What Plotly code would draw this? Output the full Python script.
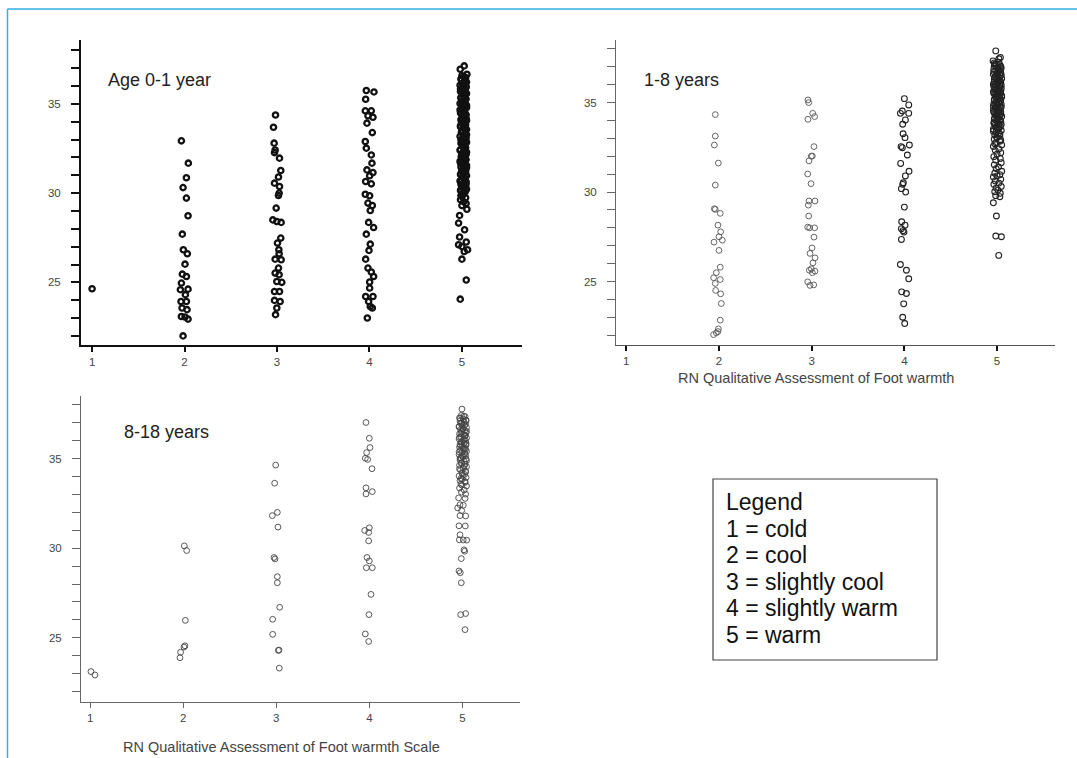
import plotly.graph_objects as go

W, H = 1077, 758

# ---------------- DATA ----------------
categories = [1, 2, 3, 4, 5]
category_labels = ["1", "2", "3", "4", "5"]
y_tick_values = [25, 30, 35]
y_tick_labels = ["25", "30", "35"]

panel_titles = ["Age 0-1 year", "1-8 years", "8-18 years"]
x_title_top = "RN Qualitative Assessment of Foot warmth"
x_title_bottom = "RN Qualitative Assessment of Foot warmth Scale"
legend_lines = ["Legend", "1 = cold", "2 = cool", "3 = slightly cool",
                "4 = slightly warm", "5 = warm"]

# ---- Age 0-1 year ----
age01_c1_x = [1.0]
age01_c1_y = [24.64]
age01_c2_x = [1.966, 2.041, 2.020, 1.984, 2.020, 2.038, 1.976, 1.987, 2.030, 2.005,
              1.976, 2.020, 1.966, 2.038, 1.955, 2.009, 1.962, 2.020, 1.973, 2.027,
              1.966, 2.005, 2.038, 1.984]
age01_c2_y = [32.93, 31.68, 30.86, 30.31, 29.72, 28.73, 27.70, 26.83, 26.60, 26.02,
              25.46, 25.33, 24.96, 24.62, 24.59, 24.31, 23.93, 23.93, 23.56, 23.47,
              23.09, 23.06, 22.94, 22.00]
age01_c3_x = [2.984, 2.962, 2.969, 2.980, 2.973, 3.027, 3.041, 3.016, 2.973, 3.027,
              3.023, 3.016, 2.991, 2.955, 2.998, 3.045, 3.041, 3.005, 3.020, 3.023,
              2.980, 3.045, 3.016, 2.980, 3.023, 2.998, 3.052, 2.973, 3.027, 2.973,
              3.034, 2.998, 2.984]
age01_c3_y = [34.38, 33.69, 32.80, 32.42, 32.27, 31.96, 31.27, 30.90, 30.56, 30.37,
              30.00, 29.87, 29.16, 28.50, 28.41, 28.36, 27.48, 27.20, 26.83, 26.60,
              26.30, 26.27, 25.80, 25.52, 25.43, 25.05, 25.00, 24.49, 24.49, 23.99,
              23.93, 23.56, 23.19]
age01_c4_x = [3.966, 4.049, 3.959, 3.955, 4.020, 3.984, 4.038, 3.973, 4.031, 3.955,
              3.966, 4.020, 4.027, 3.973, 4.038, 4.002, 3.959, 4.020, 3.955, 4.002,
              3.984, 4.031, 4.009, 3.991, 4.045, 3.966, 4.009, 3.995, 3.959, 3.984,
              4.020, 4.045, 4.002, 4.002, 3.959, 4.038, 3.991, 4.009, 4.031, 3.977]
age01_c4_y = [35.75, 35.67, 35.26, 34.61, 34.61, 34.33, 34.25, 33.92, 33.39, 32.89,
              32.52, 32.14, 31.68, 31.30, 31.15, 30.97, 30.65, 30.52, 29.94, 29.85,
              29.44, 29.31, 29.03, 28.36, 28.07, 27.70, 27.14, 26.79, 26.30, 25.80,
              25.58, 25.33, 25.02, 24.68, 24.21, 24.21, 23.93, 23.65, 23.56, 23.00]
age01_c5_x = [5.025, 4.982, 5.054,
              5.00, 5.04, 4.99, 5.03, 5.05, 5.01, 4.98, 5.045, 5.02, 5.00,
              5.035, 4.985, 5.05, 5.015, 5.03, 4.99, 5.045, 5.005, 5.025, 4.98,
              5.04, 5.01, 5.05, 4.995, 5.03, 5.015, 4.985, 5.045, 5.005, 5.035,
              4.99, 5.05, 5.02, 5.00, 5.04, 4.985, 5.025, 5.05, 5.01, 4.995,
              5.035, 5.015, 4.98, 5.045, 5.02, 5.00, 5.05, 4.99, 5.03, 5.01,
              5.04, 4.985, 5.025, 5.05, 5.00, 5.035, 4.995, 5.015, 5.045, 4.98,
              5.03, 5.005, 5.05, 4.99, 5.02, 5.04, 5.00, 5.03, 4.985, 5.05,
              5.01, 5.035, 4.995, 5.045, 5.02, 4.99, 5.04, 5.00, 5.05, 4.985,
              5.03, 5.01, 4.99, 5.04, 4.985, 5.02, 5.045, 5.00,
              5.054, 4.975, 4.964, 5.029, 4.975, 5.047, 4.964, 5.000, 5.061, 5.025,
              5.000, 5.047, 4.982,
              5.025, 4.995, 5.035, 5.005, 5.045, 4.985, 5.015, 5.04, 4.99, 5.03,
              5.00, 5.05, 5.02, 4.98, 5.04, 5.01, 5.045, 4.995, 5.025, 4.985,
              5.035, 5.00, 5.05, 5.015, 4.99, 5.04, 5.005, 5.03, 4.98, 5.02,
              5.045, 4.995, 5.01, 5.035, 4.985, 5.025, 5.05, 5.00, 5.04, 4.99,
              5.015, 5.03, 4.98, 5.045, 5.005, 5.02, 4.99, 5.035, 5.01, 5.00]
age01_c5_y = [37.13, 36.94, 36.66,
              36.58, 36.47, 36.40, 36.29, 36.22, 36.16, 36.05, 35.97, 35.91, 35.80,
              35.73, 35.69, 35.58, 35.49, 35.44, 35.33, 35.27, 35.18, 35.11, 35.02,
              34.97, 34.86, 34.80, 34.71, 34.63, 34.55, 34.49, 34.38, 34.31, 34.24,
              34.13, 34.07, 33.98, 33.90, 33.83, 33.72, 33.66, 33.57, 33.50, 33.41,
              33.35, 33.24, 33.18, 33.09, 33.01, 32.94, 32.85, 32.79, 32.68, 32.61,
              32.55, 32.44, 32.37, 32.29, 32.20, 32.14, 32.03, 31.96, 31.88, 31.79,
              31.73, 31.62, 31.55, 31.47, 31.39, 31.30, 31.24, 31.13, 31.06, 30.98,
              30.90, 30.81, 30.75, 30.64, 30.57, 30.49, 30.40, 30.33, 30.22, 30.15,
              30.04, 29.97, 29.86, 29.74, 29.63, 29.51, 29.42, 29.30,
              29.10, 28.75, 28.32, 27.95, 27.54, 27.26, 27.11, 27.01, 26.83, 26.73,
              26.30, 25.13, 24.06,
              36.52, 36.35, 36.19, 36.10, 35.93, 35.84, 35.62, 35.54, 35.36, 35.24,
              35.07, 34.92, 34.75, 34.66, 34.42, 34.34, 34.19, 34.02, 33.87, 33.78,
              33.61, 33.46, 33.28, 33.13, 32.99, 32.90, 32.73, 32.58, 32.40, 32.33,
              32.17, 32.07, 31.91, 31.84, 31.69, 31.51, 31.43, 31.27, 31.19, 31.02,
              30.94, 30.85, 30.68, 30.53, 30.45, 30.28, 30.19, 30.09, 29.92, 29.81]

# ---- 1-8 years ----
age18_c2_x = [1.960, 1.960, 1.950, 1.993, 1.960, 1.950, 1.960, 2.014, 1.989, 2.018,
              2.000, 2.036, 1.946, 2.000, 2.014, 1.971, 1.942, 2.014, 1.960, 1.964,
              2.018, 2.025, 2.014, 1.993, 1.989, 1.971, 1.942]
age18_c2_y = [34.33, 33.13, 32.63, 31.62, 30.39, 29.07, 29.03, 28.81, 28.15, 27.78,
              27.50, 27.31, 27.20, 26.74, 25.80, 25.49, 25.21, 25.11, 24.89, 24.50,
              24.31, 23.77, 22.84, 22.35, 22.20, 22.13, 22.03]
age18_c3_x = [2.960, 2.968, 3.011, 3.032, 2.960, 3.025, 2.996, 3.007, 2.971, 2.957,
              2.993, 3.036, 2.971, 2.964, 2.968, 2.957, 2.978, 3.032, 3.025, 3.004,
              2.982, 3.036, 3.014, 2.996, 2.975, 3.036, 3.007, 2.957, 3.022, 2.982]
age18_c3_y = [35.15, 35.00, 34.40, 34.22, 34.07, 32.54, 32.01, 32.01, 31.74, 31.01,
              30.47, 29.50, 29.50, 29.27, 28.66, 28.04, 28.00, 28.00, 27.48, 26.88,
              26.57, 26.32, 26.04, 25.71, 25.63, 25.58, 25.49, 24.98, 24.81, 24.78]
age18_c4_x = [4.000, 4.047, 3.978, 3.957, 4.047, 4.011, 3.982, 3.986, 4.007, 3.964,
              3.978, 4.054, 4.032, 3.960, 4.050, 4.011, 3.989, 3.982, 3.968, 4.014,
              4.000, 3.971, 4.007, 3.968, 3.986, 3.996, 3.968, 3.957, 4.022, 4.047,
              3.971, 4.022, 3.993, 3.982, 4.004]
age18_c4_y = [35.22, 34.87, 34.53, 34.40, 34.40, 34.03, 33.79, 33.26, 33.04, 32.54,
              32.48, 32.63, 32.07, 31.60, 31.16, 30.90, 30.52, 30.43, 30.19, 30.00,
              29.16, 28.34, 28.15, 27.95, 27.84, 27.76, 27.35, 25.95, 25.63, 25.15,
              24.42, 24.33, 23.75, 23.00, 22.65]
age18_c5_x = [4.986, 5.036, 4.957, 5.02, 4.97,
              4.99, 5.03, 4.97, 5.01, 5.045, 4.965, 5.02, 4.985, 5.04, 5.00,
              4.96, 5.035, 5.01, 4.975, 5.05, 4.995, 5.025, 4.97, 5.04, 5.005,
              4.98, 5.03, 4.965, 5.015, 5.045, 4.99, 5.02, 4.96, 5.035, 5.00,
              4.975, 5.05, 5.01, 4.985, 5.03, 4.97, 5.04, 4.995, 5.02, 4.965,
              5.045, 5.005, 4.98, 5.035, 4.99, 5.015, 4.96, 5.04, 5.00, 4.975,
              5.03, 4.985, 5.05, 5.01, 4.97, 5.025, 4.995, 5.04, 4.965, 5.02,
              4.98, 5.035, 5.005, 4.96, 5.045, 4.99, 5.015, 4.975, 5.03, 5.00,
              4.97, 5.03, 4.99, 5.05, 4.96, 5.02, 4.98, 5.04, 5.00, 4.965,
              5.035, 4.985, 5.045, 4.97, 5.015, 4.99, 5.05, 4.975, 5.03, 5.00,
              4.96, 5.04, 4.98, 5.02, 4.965, 5.045, 4.99, 5.01, 4.975, 5.035,
              4.985, 5.03, 4.96, 4.993, 4.986, 5.047, 5.018,
              5.02, 4.975, 5.04, 4.995, 5.03, 4.965, 5.01, 5.045, 4.985, 5.025,
              4.97, 5.035, 5.005, 4.96, 5.045, 4.99, 5.02, 4.975, 5.04, 5.00,
              4.965, 5.03, 4.985, 5.05, 5.01, 4.97, 5.035, 4.995, 5.02, 4.96,
              5.045, 4.98, 5.025, 5.00, 4.965, 5.04, 4.99, 5.015, 4.975, 5.035,
              5.005, 4.97, 5.045, 4.985, 5.02, 4.96, 5.03, 4.995, 5.04, 4.975]
age18_c5_y = [37.89, 37.52, 37.33, 37.45, 37.22,
              37.18, 37.11, 37.06, 36.98, 36.93, 36.87, 36.80, 36.76, 36.69, 36.63,
              36.58, 36.51, 36.47, 36.40, 36.35, 36.28, 36.24, 36.17, 36.12, 36.06,
              36.01, 35.95, 35.90, 35.84, 35.79, 35.72, 35.68, 35.61, 35.57, 35.50,
              35.46, 35.39, 35.34, 35.28, 35.23, 35.17, 35.12, 35.05, 35.01, 34.94,
              34.90, 34.83, 34.78, 34.72, 34.67, 34.60, 34.56, 34.49, 34.44, 34.38,
              34.33, 34.26, 34.22, 34.15, 34.10, 34.04, 33.99, 33.92, 33.87, 33.80,
              33.74, 33.66, 33.59, 33.51, 33.44, 33.36, 33.29, 33.20, 33.12, 33.03,
              32.95, 32.84, 32.76, 32.63, 32.55, 32.41, 32.33, 32.20, 32.12, 31.98,
              31.87, 31.79, 31.64, 31.52, 31.40, 31.31, 31.16, 31.05, 30.97, 30.90,
              30.84, 30.71, 30.62, 30.50, 30.43, 30.31, 30.22, 30.11, 30.02, 29.93,
              29.80, 29.74, 29.40, 28.66, 27.54, 27.50, 26.46,
              37.26, 37.14, 37.02, 36.95, 36.84, 36.72, 36.66, 36.55, 36.44, 36.37,
              36.30, 36.20, 36.14, 36.03, 35.97, 35.87, 35.81, 35.75, 35.65, 35.59,
              35.53, 35.43, 35.36, 35.31, 35.20, 35.14, 35.08, 34.97, 34.92, 34.80,
              34.75, 34.69, 34.58, 34.52, 34.46, 34.35, 34.29, 34.18, 34.12, 34.01,
              33.95, 33.83, 33.77, 33.62, 33.55, 33.40, 33.25, 33.08, 32.90, 32.70]

# ---- 8-18 years ----
age818_c1_x = [1.007, 1.050]
age818_c1_y = [23.11, 22.92]
age818_c2_x = [2.011, 2.036, 2.022, 2.018, 2.007, 1.971, 1.964]
age818_c2_y = [30.13, 29.87, 25.97, 24.55, 24.48, 24.19, 23.88]
age818_c3_x = [2.993, 2.982, 3.011, 2.957, 3.018, 2.975, 2.986, 3.011, 3.011, 3.036,
               2.961, 2.961, 3.029, 3.022, 3.032]
age818_c3_y = [34.64, 33.63, 32.00, 31.82, 31.18, 29.48, 29.40, 28.41, 28.07, 26.70,
               26.03, 25.19, 24.31, 24.29, 23.30]
age818_c4_x = [3.964, 4.000, 4.007, 3.971, 3.957, 3.982, 4.029, 3.964, 4.032, 3.964,
               4.000, 3.950, 3.993, 3.993, 3.975, 4.000, 3.968, 4.032, 4.018, 3.996,
               3.957, 3.993]
age818_c4_y = [37.02, 36.14, 35.62, 35.34, 35.02, 34.96, 34.44, 33.37, 33.16, 33.03,
               31.14, 30.99, 30.88, 30.41, 29.48, 29.29, 28.91, 28.91, 27.42, 26.29,
               25.21, 24.79]
age818_c5_x = [4.996,
               4.99, 5.03, 4.97, 5.01, 5.04, 4.975, 5.02, 4.985, 5.035, 5.00,
               4.965, 5.045, 5.005, 4.98, 5.025, 4.995, 5.04, 4.97, 5.015, 5.03,
               4.985, 5.045, 4.965, 5.01, 5.035, 4.99, 5.02, 4.975, 5.04, 5.00,
               4.97, 5.03, 5.015, 4.98, 5.045, 4.995, 5.025, 4.965, 5.035, 5.005,
               4.985, 5.04, 4.975, 5.02, 4.99, 5.03, 4.97, 5.045, 5.01, 4.98,
               5.035, 4.995, 5.025, 4.965, 5.04, 5.00, 4.975, 5.03, 4.985, 5.045,
               4.97, 5.02, 4.99, 5.035,
               4.960, 5.030, 4.975, 5.010, 4.950, 4.993, 4.975, 5.036, 4.964, 5.032,
               4.975, 4.968, 5.010, 5.047, 5.018, 5.025, 4.989, 4.964, 4.978, 4.989,
               4.982, 5.036, 5.029,
               5.015, 4.975, 5.04, 4.995, 5.025, 4.965, 5.005, 5.045, 4.985, 5.03,
               4.97, 5.02, 4.99, 5.04, 4.98, 5.01, 5.035, 4.965, 5.025, 5.00,
               4.975, 5.045, 4.99, 5.02, 4.97, 5.035, 5.005, 4.985, 5.03, 4.995]
age818_c5_y = [37.77,
               37.42, 37.35, 37.28, 37.22, 37.15, 37.10, 37.03, 36.97, 36.92, 36.85,
               36.80, 36.74, 36.68, 36.63, 36.56, 36.51, 36.45, 36.39, 36.34, 36.27,
               36.22, 36.16, 36.10, 36.05, 35.98, 35.93, 35.87, 35.81, 35.76, 35.69,
               35.64, 35.58, 35.52, 35.47, 35.40, 35.35, 35.29, 35.23, 35.17, 35.11,
               35.05, 34.98, 34.92, 34.85, 34.78, 34.70, 34.63, 34.55, 34.47, 34.38,
               34.30, 34.21, 34.12, 34.03, 33.95, 33.86, 33.77, 33.68, 33.58, 33.47,
               33.36, 33.25, 33.13, 33.02,
               32.81, 32.78, 32.43, 32.40, 32.25, 32.10, 31.82, 31.80, 31.25, 31.24,
               30.75, 30.47, 30.46, 30.45, 29.91, 29.83, 29.42, 28.73, 28.63, 28.07,
               26.29, 26.35, 25.45,
               37.38, 37.25, 37.12, 37.00, 36.88, 36.77, 36.65, 36.53, 36.42, 36.31,
               36.19, 36.08, 35.95, 35.84, 35.72, 35.61, 35.50, 35.38, 35.26, 35.14,
               35.02, 34.89, 34.74, 34.59, 34.43, 34.26, 34.08, 33.90, 33.72, 33.52]

# ---------------- FIGURE ----------------
def px(x):
    return x / W

def py(y):
    return 1 - y / H

FONT = "Liberation Sans, Arial, Helvetica, sans-serif"

fig = go.Figure()

panels = [
    (("x", "y"), [(age01_c1_x, age01_c1_y), (age01_c2_x, age01_c2_y), (age01_c3_x, age01_c3_y),
                  (age01_c4_x, age01_c4_y), (age01_c5_x, age01_c5_y)],
     "#111111", 5.3, 2.3),
    (("x2", "y2"), [(age18_c2_x, age18_c2_y), (age18_c3_x, age18_c3_y)],
     "#555555", 5.8, 0.9),
    (("x2", "y2"), [(age18_c4_x, age18_c4_y), (age18_c5_x, age18_c5_y)],
     "#222222", 5.8, 1.1),
    (("x3", "y3"), [(age818_c1_x, age818_c1_y), (age818_c2_x, age818_c2_y), (age818_c3_x, age818_c3_y),
                    (age818_c4_x, age818_c4_y), (age818_c5_x, age818_c5_y)],
     "#444444", 5.8, 0.9),
]
for (xa, ya), series, col, size, lw in panels:
    for xs, ys in series:
        fig.add_trace(go.Scatter(x=xs, y=ys, xaxis=xa, yaxis=ya, mode="markers",
                                 marker=dict(symbol="circle-open", color=col, size=size,
                                             line=dict(width=lw, color=col)),
                                 showlegend=False, hoverinfo="skip"))

def yaxis_cfg(domain, rng, color, lw, tw, anchor):
    return dict(domain=domain, range=rng, anchor=anchor,
                tickmode="array", tickvals=y_tick_values, ticktext=y_tick_labels,
                ticks="outside", ticklen=8, tickwidth=tw, tickcolor=color,
                minor=dict(dtick=1, tick0=0, ticks="outside", ticklen=8,
                           tickwidth=tw, tickcolor=color, showgrid=False),
                showline=True, linecolor=color, linewidth=lw,
                showgrid=False, zeroline=False, ticklabelstandoff=8,
                tickfont=dict(family=FONT, size=11.5, color="#444444"))

def xaxis_cfg(domain, rng, color, lw, tickcolor, tw, anchor):
    return dict(domain=domain, range=rng, anchor=anchor,
                tickmode="array", tickvals=categories, ticktext=category_labels,
                ticks="outside", ticklen=5, tickwidth=tw, tickcolor=tickcolor,
                showline=True, linecolor=color, linewidth=lw,
                showgrid=False, zeroline=False,
                tickfont=dict(family=FONT, size=11.5, color="#444444"))

fig.update_layout(
    width=W, height=H,
    margin=dict(l=0, r=0, t=0, b=0),
    paper_bgcolor="white", plot_bgcolor="rgba(0,0,0,0)",
    showlegend=False,
    xaxis=xaxis_cfg([px(81), px(522)], [0.88, 5.65], "#111111", 2, "#111111", 1.5, "y"),
    yaxis=yaxis_cfg([py(345), py(40)], [21.49, 38.58], "#111111", 2, 2, "x"),
    xaxis2=xaxis_cfg([px(616), px(1055)], [0.889, 5.625], "#555555", 1.2, "#111111", 2, "y2"),
    yaxis2=yaxis_cfg([py(345), py(40)], [21.45, 38.5], "#666666", 1, 1, "x2"),
    xaxis3=xaxis_cfg([px(81), px(520)], [0.90, 5.62], "#666666", 1, "#666666", 1, "y3"),
    yaxis3=yaxis_cfg([py(702), py(396)], [21.41, 38.5], "#666666", 1, 1, "x3"),
)

title_font = dict(family=FONT, size=18, color="#222222")
axis_title_font = dict(family=FONT, size=14.5, color="#444444")
annotations = [
    dict(text=panel_titles[0], x=px(106), y=py(80), xanchor="left", yanchor="middle", font=title_font),
    dict(text=panel_titles[1], x=px(642), y=py(80), xanchor="left", yanchor="middle", font=title_font),
    dict(text=panel_titles[2], x=px(122), y=py(432), xanchor="left", yanchor="middle", font=title_font),
    dict(text=x_title_top, x=px(816), y=py(378), xanchor="center", yanchor="middle", font=axis_title_font),
    dict(text=x_title_bottom, x=px(281), y=py(747), xanchor="center", yanchor="middle", font=axis_title_font),
]
legend_y = [502, 528.5, 555, 581.5, 608, 634.5]
for line, ly in zip(legend_lines, legend_y):
    annotations.append(dict(text=line, x=px(724), y=py(ly), xanchor="left", yanchor="middle",
                            align="left", font=dict(family=FONT, size=23, color="#111111")))
for a in annotations:
    a.update(xref="paper", yref="paper", showarrow=False)
fig.update_layout(annotations=annotations)

shapes = [
    dict(type="rect", x0=px(713), x1=px(937), y0=py(660), y1=py(479),
         line=dict(color="#444444", width=1.2), fillcolor="rgba(0,0,0,0)"),
    dict(type="line", x0=px(7.5), x1=px(7.5), y0=0, y1=py(9),
         line=dict(color="#35aee2", width=1.5)),
    dict(type="line", x0=px(7.5), x1=1, y0=py(9), y1=py(9),
         line=dict(color="#35aee2", width=1.5)),
]
for s in shapes:
    s.update(xref="paper", yref="paper")
fig.update_layout(shapes=shapes)

fig.write_html("out.html", config={"displayModeBar": False},
               post_script="document.body.style.margin='0';document.body.style.overflow='hidden';")
